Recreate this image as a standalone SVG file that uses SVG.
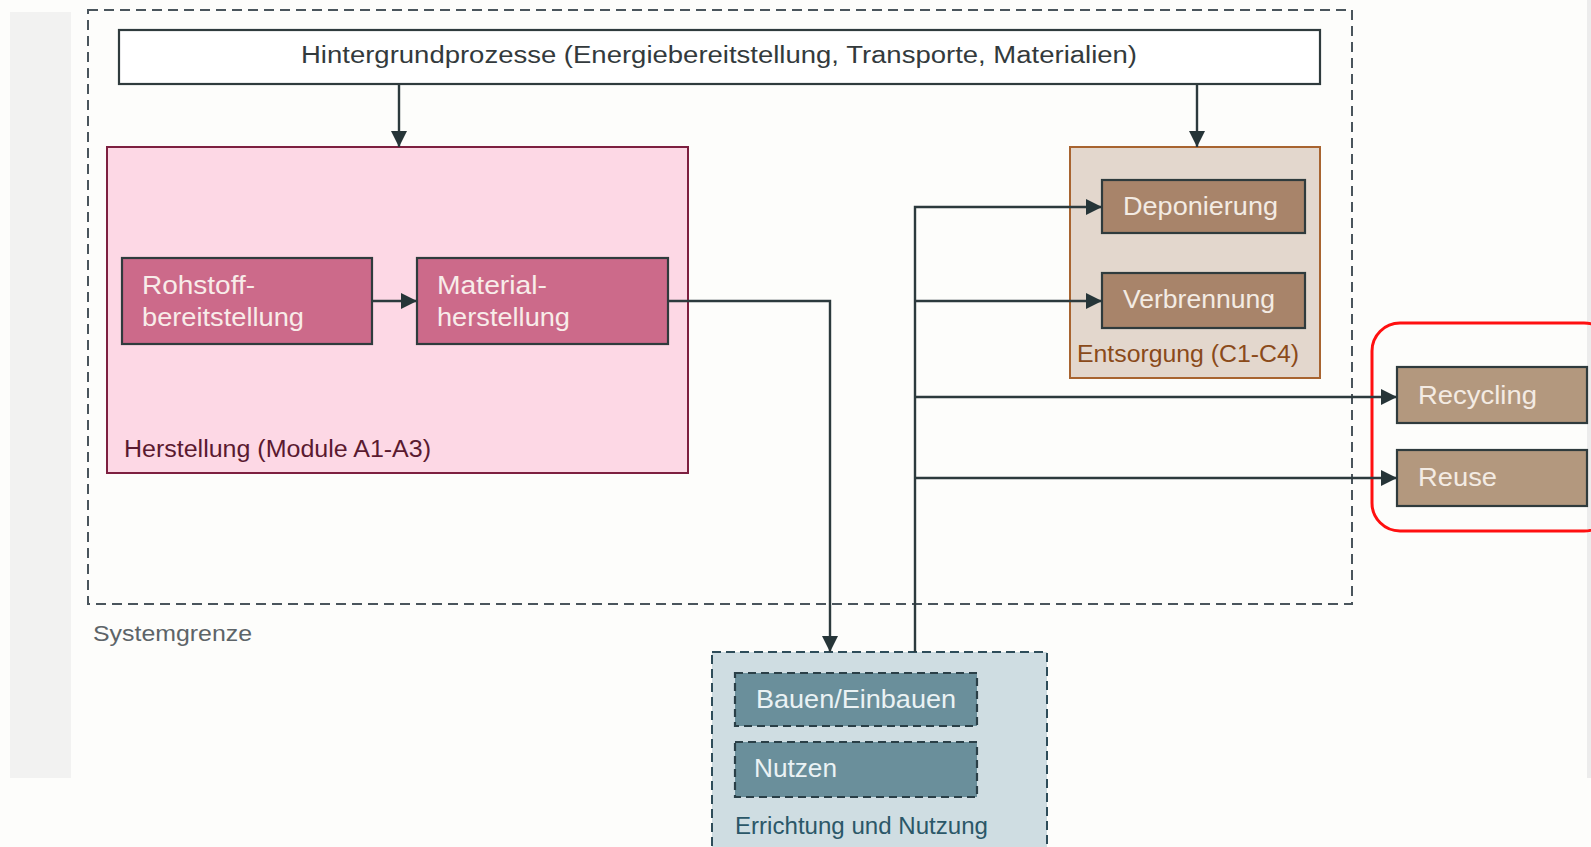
<svg xmlns="http://www.w3.org/2000/svg" width="1591" height="847" viewBox="0 0 1591 847">
<style>
text{font-family:"Liberation Sans",Arial,sans-serif;}
.lbl{font-size:25px;}
.grp{font-size:23px;}
.conn{fill:none;stroke:#2c3a3d;stroke-width:2.4;}
.dark{stroke:#2f3b3d;stroke-width:2.2;}
.pinkbox{fill:#cc6a8a;}
.brown{fill:#a8846a;}
.brownL{fill:#b3987e;}
.teal{fill:#6a8f9b;stroke:#2a3f47;stroke-width:2.2;stroke-dasharray:8 5;}
.wt{fill:#f8ece9;}
</style>
<defs>
<marker id="ah" viewBox="0 0 10 10" refX="10" refY="5" markerWidth="16" markerHeight="16" markerUnits="userSpaceOnUse" orient="auto" preserveAspectRatio="none">
<path d="M0,0 L10,5 L0,10 z" fill="#263538"/>
</marker>
</defs>
<rect x="0" y="0" width="1591" height="847" fill="#fdfdfb"/>
<rect x="10" y="12" width="61" height="766" fill="#f2f2f1"/>
<rect x="1587" y="0" width="4" height="778" fill="#ececec"/>

<g id="systemgrenze">
<rect x="88" y="10" width="1264" height="594" fill="none" stroke="#4a555c" stroke-width="2" stroke-dasharray="10 6"/>
<text x="93" y="641" font-size="22" fill="#5d6468" textLength="159" lengthAdjust="spacingAndGlyphs">Systemgrenze</text>
</g>

<g id="hintergrund">
<rect x="119" y="30" width="1201" height="54" fill="#ffffff" class="dark"/>
<text x="301" y="63" font-size="23" fill="#333a3c" textLength="836" lengthAdjust="spacingAndGlyphs">Hintergrundprozesse (Energiebereitstellung, Transporte, Materialien)</text>
</g>

<g id="herstellung">
<rect x="107" y="147" width="581" height="326" fill="#fdd8e5" stroke="#7d2040" stroke-width="2"/>
<text x="124" y="457" class="grp" fill="#5a1a30" textLength="307" lengthAdjust="spacingAndGlyphs">Herstellung (Module A1-A3)</text>
</g>
<g id="rohstoff">
<rect x="122" y="258" width="250" height="86" class="pinkbox dark"/>
<text x="142" y="294" class="lbl wt" textLength="113" lengthAdjust="spacingAndGlyphs">Rohstoff-</text>
<text x="142" y="326" class="lbl wt" textLength="162" lengthAdjust="spacingAndGlyphs">bereitstellung</text>
</g>
<g id="material">
<rect x="417" y="258" width="251" height="86" class="pinkbox dark"/>
<text x="437" y="294" class="lbl wt" textLength="110" lengthAdjust="spacingAndGlyphs">Material-</text>
<text x="437" y="326" class="lbl wt" textLength="133" lengthAdjust="spacingAndGlyphs">herstellung</text>
</g>

<g id="entsorgung">
<rect x="1070" y="147" width="250" height="231" fill="#e3d7cd" stroke="#a86430" stroke-width="2"/>
<text x="1077" y="362" class="grp" fill="#8a4a1a" textLength="222" lengthAdjust="spacingAndGlyphs">Entsorgung (C1-C4)</text>
</g>
<g id="deponierung">
<rect x="1102" y="180" width="203" height="53" class="brown dark"/>
<text x="1123" y="215" class="lbl" fill="#f3ebe3" textLength="155" lengthAdjust="spacingAndGlyphs">Deponierung</text>
</g>
<g id="verbrennung">
<rect x="1102" y="273" width="203" height="55" class="brown dark"/>
<text x="1123" y="308" class="lbl" fill="#f3ebe3" textLength="152" lengthAdjust="spacingAndGlyphs">Verbrennung</text>
</g>

<g id="highlight">
<rect x="1372" y="323" width="240" height="208" rx="28" ry="28" fill="none" stroke="#ff1010" stroke-width="3"/>
</g>
<g id="recycling">
<rect x="1397" y="367" width="190" height="56" class="brownL dark"/>
<text x="1418" y="404" class="lbl" fill="#f3ebe3" textLength="119" lengthAdjust="spacingAndGlyphs">Recycling</text>
</g>
<g id="reuse">
<rect x="1397" y="450" width="190" height="56" class="brownL dark"/>
<text x="1418" y="486" class="lbl" fill="#f3ebe3" textLength="79" lengthAdjust="spacingAndGlyphs">Reuse</text>
</g>

<g id="errichtung">
<rect x="712" y="652" width="335" height="210" fill="#cfdde2" stroke="#2e4d5a" stroke-width="2" stroke-dasharray="9 5"/>
<text x="735" y="834" class="grp" fill="#2b5768" textLength="253" lengthAdjust="spacingAndGlyphs">Errichtung und Nutzung</text>
</g>
<g id="bauen">
<rect x="735" y="673" width="242" height="53" class="teal"/>
<text x="756" y="708" class="lbl" fill="#eaf2f4" textLength="200" lengthAdjust="spacingAndGlyphs">Bauen/Einbauen</text>
</g>
<g id="nutzen">
<rect x="735" y="742" width="242" height="55" class="teal"/>
<text x="754" y="777" class="lbl" fill="#eaf2f4" textLength="83" lengthAdjust="spacingAndGlyphs">Nutzen</text>
</g>

<g id="connectors">
<path class="conn" d="M399 85 V147" marker-end="url(#ah)"/>
<path class="conn" d="M1197 85 V147" marker-end="url(#ah)"/>
<path class="conn" d="M372 301 H417" marker-end="url(#ah)"/>
<path class="conn" d="M668 301 H830 V652" marker-end="url(#ah)"/>
<path class="conn" d="M915 652 V207 H1102" marker-end="url(#ah)"/>
<path class="conn" d="M915 301 H1102" marker-end="url(#ah)"/>
<path class="conn" d="M915 397 H1397" marker-end="url(#ah)"/>
<path class="conn" d="M915 478 H1397" marker-end="url(#ah)"/>
</g>
</svg>
